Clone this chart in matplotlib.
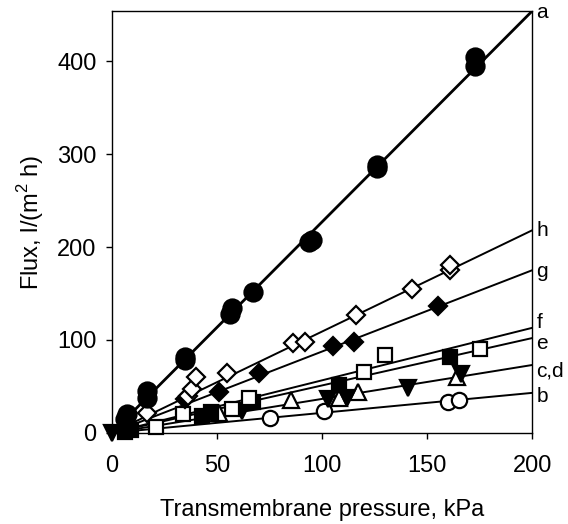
import matplotlib
matplotlib.use('Agg')
import matplotlib.pyplot as plt
import numpy as np

plt.rcParams['font.family'] = 'Liberation Sans'
plt.rcParams['mathtext.fontset'] = 'custom'
plt.rcParams['mathtext.rm'] = 'Liberation Sans'

# series: pressure (kPa), flux (l/(m2 h))
a_x = [6, 7, 16.5, 16.5, 35, 35, 56, 57, 67, 94, 95, 126, 126, 173, 173]
a_y = [15, 20, 38, 45, 78, 82, 128, 134, 152, 205, 208, 285, 288, 395, 404]
h_x = [16.5, 36, 38, 40, 55, 86, 92, 116, 143, 161, 161]
h_y = [21, 40, 47, 60, 64, 97, 98, 127, 155, 175, 181]
g_x = [35, 51, 70, 105, 115, 155]
g_y = [36, 44, 64, 93, 98, 136]
f_x = [21, 34, 57, 65, 120, 130, 175]
f_y = [6, 20, 26, 37, 66, 84, 90]
e_x = [6, 9, 43, 47, 67, 108, 161]
e_y = [1, 3, 18, 22, 33, 51, 82]
c_x = [0, 62, 103, 112, 141, 166]
c_y = [0, 23, 36, 38, 48, 63]
d_x = [51, 85, 108, 117, 164]
d_y = [21, 35, 37, 44, 60]
b_x = [75, 101, 160, 165]
b_y = [16, 23, 33, 35]

# fitted slopes of the straight lines through the origin
line_names = ['a', 'h', 'g', 'f', 'e', 'c,d', 'b']
line_slopes = [2.27, 1.09, 0.875, 0.565, 0.51, 0.365, 0.215]
label_y = [452, 218, 174, 119, 96, 67, 39]

fig = plt.figure(figsize=(5.68, 5.24), dpi=100)
ax = fig.add_axes([0.197, 0.174, 0.740, 0.805])

xs = np.array([0, 200])
for name, k in zip(line_names, line_slopes):
    lw = 2.0 if name == 'a' else 1.4
    ax.plot(xs, k * xs, color='black', lw=lw, zorder=2)

mk = dict(linestyle='none', markeredgecolor='black', markeredgewidth=1.6,
          clip_on=False, zorder=3)
ax.plot(b_x, b_y, 'o', ms=11, markerfacecolor='white', **mk)
ax.plot(d_x, d_y, '^', ms=11, markerfacecolor='white', **mk)
ax.plot(c_x, c_y, 'v', ms=11, markerfacecolor='black', **mk)
ax.plot(e_x, e_y, 's', ms=9.5, markerfacecolor='black', **mk)
ax.plot(f_x, f_y, 's', ms=9.5, markerfacecolor='white', **mk)
ax.plot(g_x, g_y, 'D', ms=9.5, markerfacecolor='black', **mk)
ax.plot(h_x, h_y, 'D', ms=9.5, markerfacecolor='white', **mk)
ax.plot(a_x, a_y, 'o', ms=13, markerfacecolor='black', **mk)

for name, yl in zip(line_names, label_y):
    ax.text(202, yl, name, fontsize=15, ha='left', va='center', clip_on=False)

ax.set_xlim(0, 200)
ax.set_ylim(0, 454)
ax.set_xticks([0, 50, 100, 150, 200])
ax.set_yticks([0, 100, 200, 300, 400])
ax.tick_params(direction='out', length=4, width=1, labelsize=17)
ax.tick_params(axis='x', pad=12)
ax.tick_params(axis='y', pad=7)
for s in ax.spines.values():
    s.set_linewidth(1)

ax.set_xlabel('Transmembrane pressure, kPa', fontsize=17, labelpad=16)
ax.set_ylabel('Flux, l/(m$^2$ h)', fontsize=17, labelpad=8)

plt.savefig('out.png', dpi=100)
